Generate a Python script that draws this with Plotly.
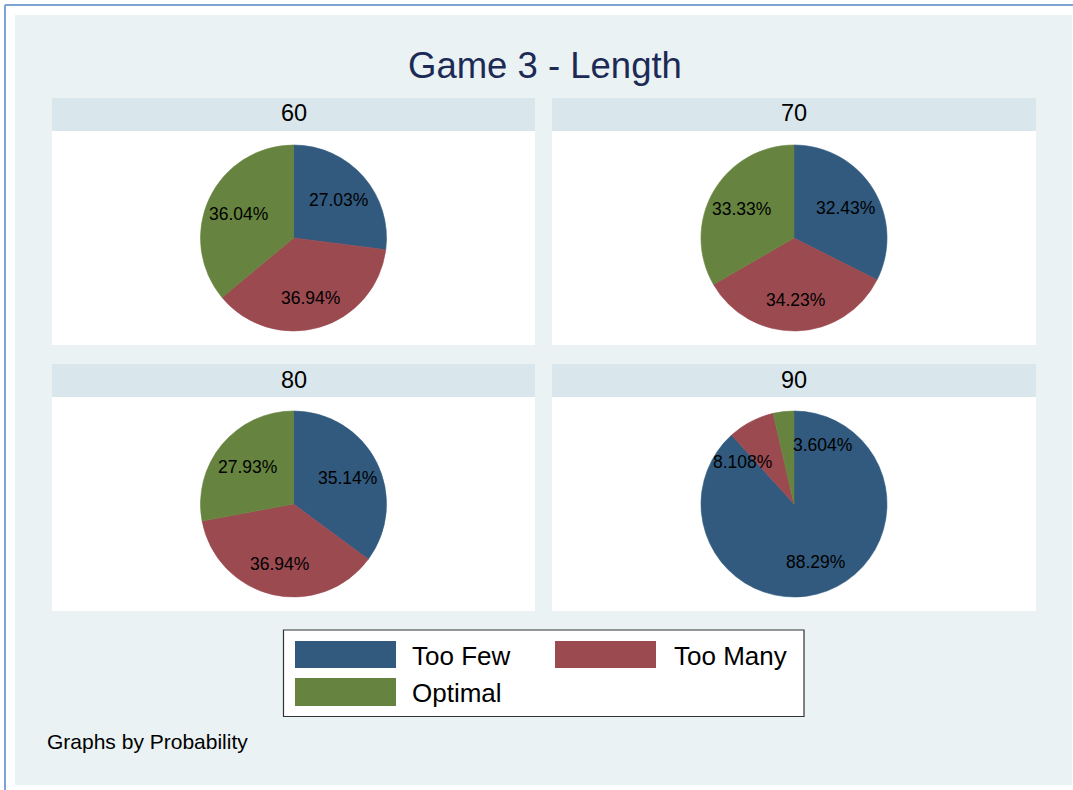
import numpy as np
import plotly.graph_objects as go

# ---------------- data ----------------
categories = ["Too Few", "Too Many", "Optimal"]
panels = ["60", "70", "80", "90"]
pct_60 = [27.03, 36.94, 36.04]
pct_70 = [32.43, 34.23, 33.33]
pct_80 = [35.14, 36.94, 27.93]
pct_90 = [88.29, 8.108, 3.604]
panel_values = [pct_60, pct_70, pct_80, pct_90]

title_text = "Game 3 - Length"
note_text = "Graphs by Probability"

# ---------------- style ----------------
W, H = 1073, 790
colors = ["#315A7E", "#9B4A50", "#66843F"]
BG = "#EAF2F3"
STRIP = "#D9E6EB"
FONT = "Liberation Sans, Arial, sans-serif"
SMALL_SHARE = 10.0  # slices below this share get side-anchored labels


def px(x):
    return x / W


def py(y):
    return 1 - y / H


# panel geometry (pixels): left, right, strip top, strip bottom, panel bottom
panel_boxes = [
    (52, 535, 98, 131, 345),
    (552, 1036, 98, 131, 345),
    (52, 535, 364, 397, 611),
    (552, 1036, 364, 397, 611),
]
R = 93

fig = go.Figure()
shapes = []
annotations = []

# outer frame
shapes.append(dict(type="line", xref="paper", yref="paper", x0=px(5), x1=px(W), y0=py(5), y1=py(5),
                   line=dict(color="#7CA3D4", width=2)))
shapes.append(dict(type="line", xref="paper", yref="paper", x0=px(5), x1=px(5), y0=py(5), y1=py(H),
                   line=dict(color="#7CA3D4", width=2)))
shapes.append(dict(type="rect", xref="paper", yref="paper", x0=px(15), x1=px(1072), y0=py(15), y1=py(785),
                   fillcolor=BG, line=dict(width=0), layer="below"))

annotations.append(dict(text=title_text, x=px(545), y=py(65), xref="paper", yref="paper",
                        showarrow=False, xanchor="center", yanchor="middle",
                        font=dict(family=FONT, size=36.5, color="#1C2A55")))

for name, vals, (l, r, st, sb, pb) in zip(panels, panel_values, panel_boxes):
    shapes.append(dict(type="rect", xref="paper", yref="paper", x0=px(l), x1=px(r), y0=py(st), y1=py(sb),
                       fillcolor=STRIP, line=dict(width=0), layer="below"))
    shapes.append(dict(type="rect", xref="paper", yref="paper", x0=px(l), x1=px(r), y0=py(sb), y1=py(pb),
                       fillcolor="white", line=dict(width=0), layer="below"))
    annotations.append(dict(text=name, x=px((l + r) / 2), y=py((st + sb) / 2 - 1), xref="paper", yref="paper",
                            showarrow=False, xanchor="center", yanchor="middle",
                            font=dict(family=FONT, size=23.5, color="black")))
    cx = (l + r) / 2
    cy = (sb + pb) / 2
    fig.add_trace(go.Pie(
        labels=categories, values=vals, sort=False, direction="clockwise", rotation=0,
        marker=dict(colors=colors, line=dict(color=colors, width=0.6)),
        textinfo="none", showlegend=False, hole=0,
        domain=dict(x=[px(cx - R), px(cx + R)], y=[py(cy + R), py(cy - R)]),
        hovertemplate="%{label}: %{value}%<extra>" + name + "</extra>",
    ))
    # slice labels at 0.65 R along the mid-angle of each slice
    v = np.array(vals, dtype=float)
    share = 100 * v / v.sum()
    cum = np.cumsum(v) - v / 2
    ang = 2 * np.pi * cum / v.sum()
    lxs = cx + 0.65 * R * np.sin(ang)
    lys = cy - 0.65 * R * np.cos(ang) + 1.5
    small_idx = [i for i in range(len(vals)) if share[i] < SMALL_SHARE]
    small_sorted = sorted(small_idx, key=lambda i: lxs[i])
    for i, val in enumerate(vals):
        xa, lx, ly = "center", lxs[i], lys[i]
        if len(small_sorted) > 1 and i in small_sorted:
            if i == small_sorted[0]:
                xa, lx, ly = "right", lx + 8, ly + 10
            elif i == small_sorted[-1]:
                xa, lx, ly = "left", lx + 4, ly
        annotations.append(dict(text=f"{val:.4g}%", x=px(lx), y=py(ly), xref="paper", yref="paper",
                                showarrow=False, xanchor=xa, yanchor="middle",
                                font=dict(family=FONT, size=17.5, color="black")))

# legend (drawn)
shapes.append(dict(type="rect", xref="paper", yref="paper", x0=px(283.5), x1=px(804), y0=py(630), y1=py(716.5),
                   fillcolor="white", line=dict(color="#333333", width=1.2)))
legend_pos = [(295, 396, 641, 668, 410), (555, 656, 641, 668, 672), (295, 396, 678, 706, 410)]
for cat, col, (x0, x1, y0, y1, tx) in zip(categories, colors, legend_pos):
    shapes.append(dict(type="rect", xref="paper", yref="paper", x0=px(x0), x1=px(x1), y0=py(y0), y1=py(y1),
                       fillcolor=col, line=dict(width=0)))
    annotations.append(dict(text=cat, x=px(tx), y=py((y0 + y1) / 2 + 1), xref="paper", yref="paper",
                            showarrow=False, xanchor="left", yanchor="middle",
                            font=dict(family=FONT, size=26, color="black")))

annotations.append(dict(text=note_text, x=px(45), y=py(741), xref="paper", yref="paper",
                        showarrow=False, xanchor="left", yanchor="middle",
                        font=dict(family=FONT, size=21, color="black")))

fig.update_layout(
    width=W, height=H, margin=dict(l=0, r=0, t=0, b=0),
    paper_bgcolor="white", plot_bgcolor="white",
    shapes=shapes, annotations=annotations, showlegend=False,
)

fig.write_html("out.html", include_plotlyjs=True, config={"displayModeBar": False})
